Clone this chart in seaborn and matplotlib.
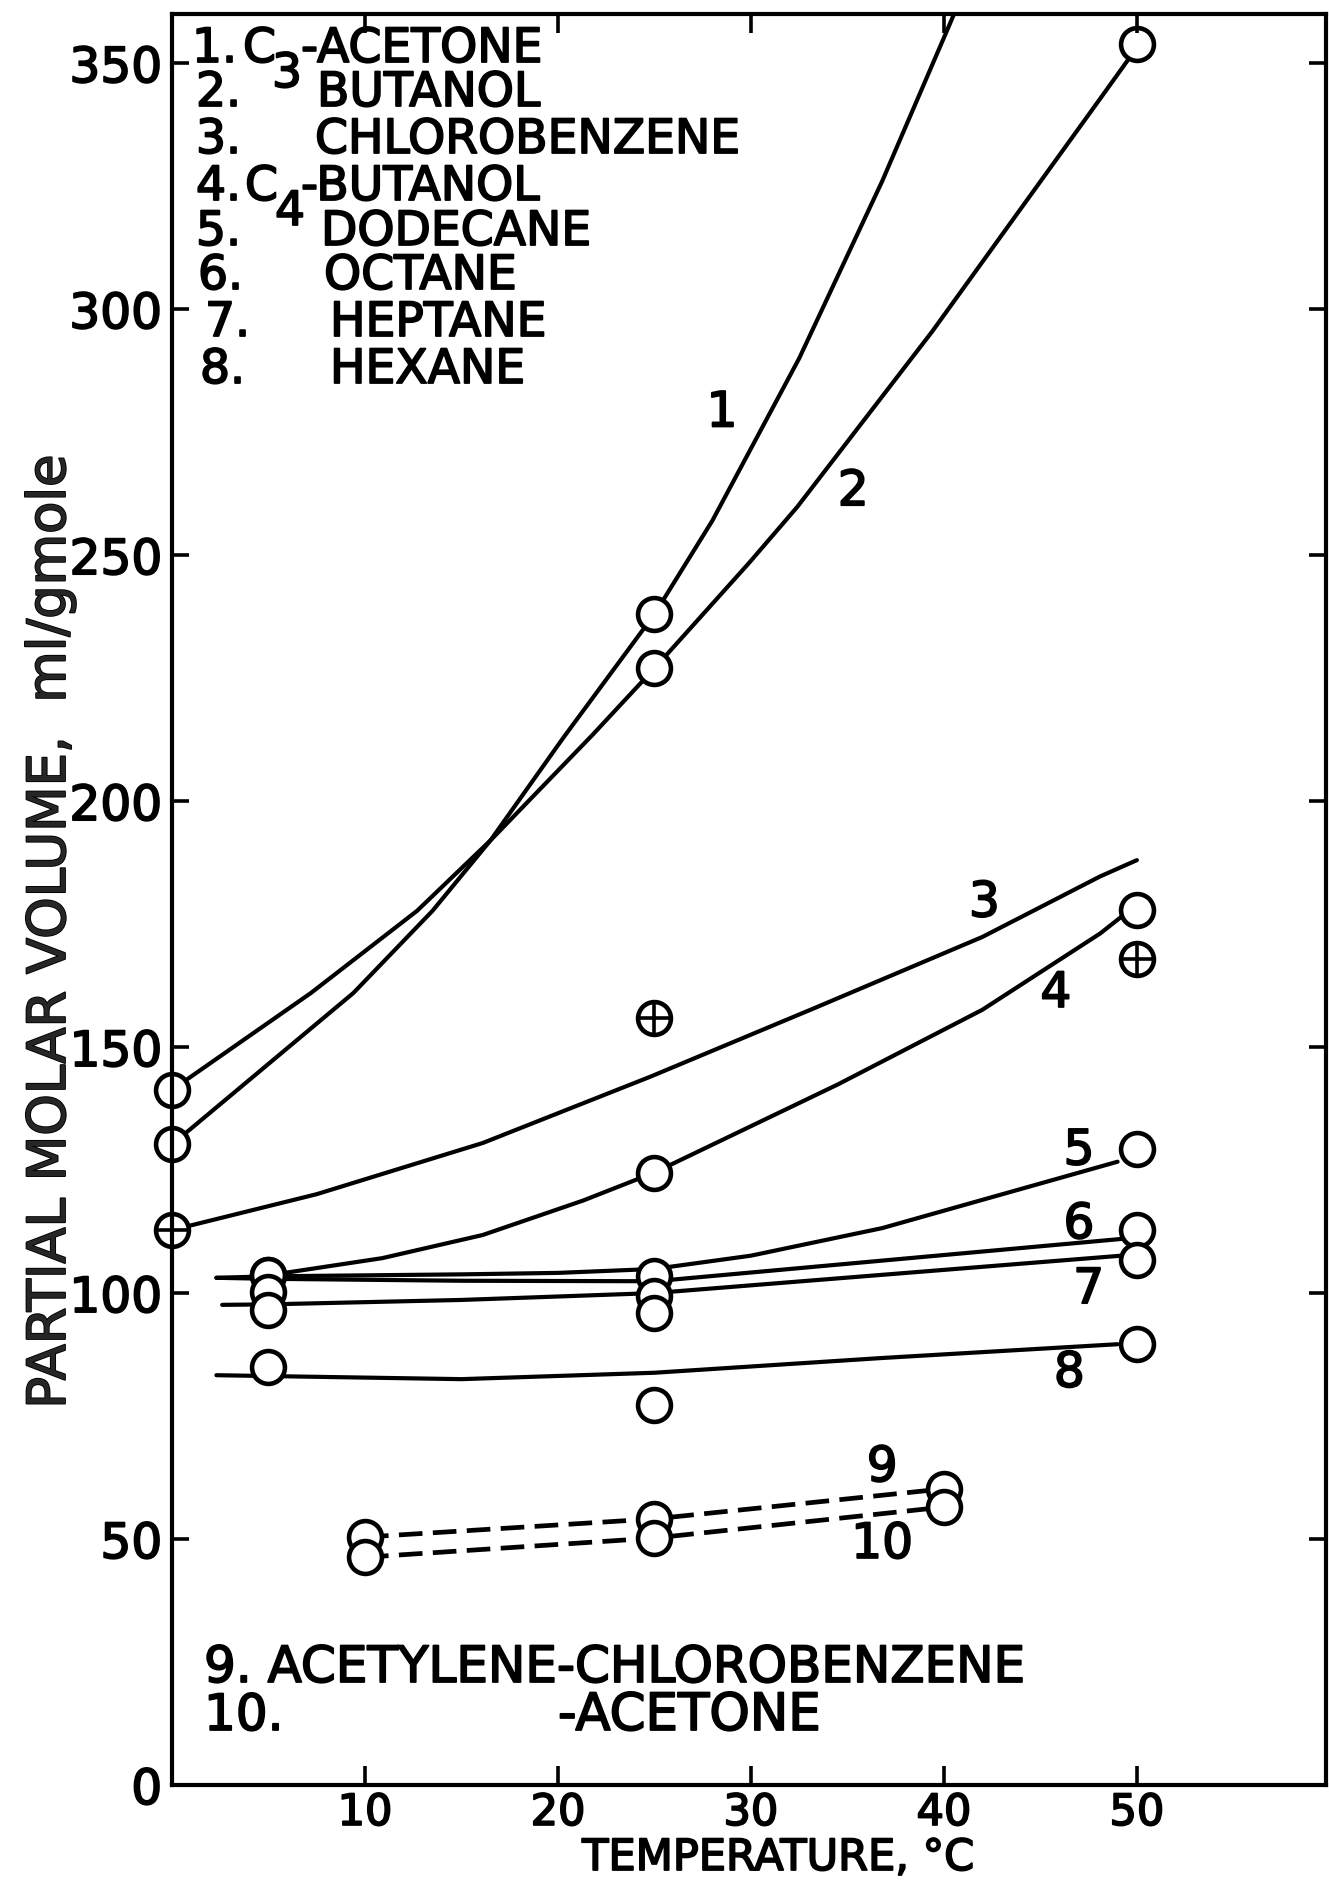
import matplotlib
matplotlib.use("Agg")
import matplotlib.pyplot as plt
import matplotlib.patheffects as pe
import seaborn as sns

# ---------------- data ----------------
# measured points (open circles / crossed circles)
c3_acetone_t = [0, 25]
c3_acetone_v = [130.2, 238.0]
c3_butanol_t = [0, 25, 50]
c3_butanol_v = [141.3, 227.0, 354.0]
chlorobenzene_t = [0, 25, 50]
chlorobenzene_v = [112.8, 156.0, 168.0]
c4_butanol_t = [5, 25, 50]
c4_butanol_v = [103.6, 124.5, 177.8]
dodecane_t = [5, 25, 50]
dodecane_v = [103.6, 103.5, 129.3]
octane_t = [5, 25, 50]
octane_v = [100.3, 99.5, 112.8]
heptane_t = [5, 25, 50]
heptane_v = [96.5, 96.0, 106.7]
hexane_t = [5, 25, 50]
hexane_v = [85.0, 77.3, 89.6]
acet_cb_t = [10, 25, 40]
acet_cb_v = [50.4, 54.1, 60.2]
acet_ac_t = [10, 25, 40]
acet_ac_v = [46.3, 50.2, 56.5]

# drawn (fitted) curves
curve1_t = [0, 9.4, 13.5, 16.5, 20.3, 25, 28, 32.5, 36.8, 40.2, 41.5]
curve1_v = [130.2, 161, 177.7, 192, 213, 238, 257, 290, 326, 357, 369]
curve2_t = [0, 7.2, 12.7, 16.5, 21.8, 25, 29.9, 32.4, 39.4, 48.1, 49.6]
curve2_v = [141.3, 161, 177.7, 192, 213.5, 227, 248.4, 259.8, 295.5, 342.8, 351]
curve3_t = [0, 7.5, 16.1, 24.8, 33.4, 42, 48.1, 50]
curve3_v = [112.8, 120.1, 130.5, 144.0, 158.1, 172.4, 184.7, 188]
curve4_t = [5, 10.9, 16.1, 21.3, 25, 34.5, 42, 48.1, 49.2]
curve4_v = [103.6, 107.1, 111.8, 118.8, 124.5, 142.4, 157.6, 173.1, 176.5]
curve5_t = [2.3, 5, 15, 20, 25, 30, 36.8, 49.0]
curve5_v = [103.1, 103.4, 103.8, 104.1, 104.9, 107.6, 113.2, 126.7]
curve6_t = [2.3, 5, 15, 25, 49.2]
curve6_v = [103.1, 102.9, 102.5, 102.4, 111.0]
curve7_t = [2.6, 5, 15, 25, 49.2]
curve7_v = [97.6, 97.7, 98.6, 100.0, 107.6]
curve8_t = [2.3, 15, 25, 36.8, 49.0]
curve8_v = [83.3, 82.5, 83.8, 86.8, 89.6]

legend_top = [("1.", "C", "3", "-ACETONE"), ("2.", "", "", "BUTANOL"),
              ("3.", "", "", "CHLOROBENZENE"), ("4.", "C", "4", "-BUTANOL"),
              ("5.", "", "", "DODECANE"), ("6.", "", "", "OCTANE"),
              ("7.", "", "", "HEPTANE"), ("8.", "", "", "HEXANE")]
x_ticks = [10, 20, 30, 40, 50]
y_ticks = [0, 50, 100, 150, 200, 250, 300, 350]

# ---------------- figure ----------------
sns.set_theme(style="white", rc={"axes.edgecolor": "black",
                                 "xtick.color": "black", "ytick.color": "black"})
plt.rcParams["font.family"] = ["DejaVu Sans"]

W, H = 1329, 1883
fig = plt.figure(figsize=(W / 100, H / 100), dpi=100)
fig.patch.set_facecolor("white")
ax = fig.add_axes([172 / W, 1 - 1786 / H, (1326 - 172) / W, (1786 - 15) / H])
ax.set_facecolor("white")
ax.set_axisbelow(False)

thick = [pe.withStroke(linewidth=1.3, foreground="black")]
LW = 3.0

solid = [(curve1_t, curve1_v), (curve2_t, curve2_v), (curve3_t, curve3_v),
         (curve4_t, curve4_v), (curve5_t, curve5_v), (curve6_t, curve6_v),
         (curve7_t, curve7_v), (curve8_t, curve8_v)]
for t, v in solid:
    sns.lineplot(x=t, y=v, ax=ax, color="black", lw=LW, sort=False,
                 estimator=None, zorder=2)
    ax.lines[-1].set_solid_joinstyle("round")

for t, v in [(acet_cb_t, acet_cb_v), (acet_ac_t, acet_ac_v)]:
    sns.lineplot(x=t, y=v, ax=ax, color="black", lw=3.4, sort=False,
                 estimator=None, zorder=2)
    ax.lines[-1].set_dashes([5.0, 2.2])

circles = [(c3_acetone_t, c3_acetone_v), (c3_butanol_t, c3_butanol_v),
           (c4_butanol_t, c4_butanol_v), (dodecane_t, dodecane_v),
           (octane_t, octane_v), (heptane_t, heptane_v), (hexane_t, hexane_v),
           (acet_cb_t, acet_cb_v), (acet_ac_t, acet_ac_v)]
for t, v in circles:
    sns.scatterplot(x=t, y=v, ax=ax, marker="o", s=560, facecolor="white",
                    edgecolor="black", linewidth=3.3, zorder=2.2, clip_on=False)

sns.scatterplot(x=chlorobenzene_t, y=chlorobenzene_v, ax=ax, marker="o", s=560,
                facecolor="white", edgecolor="black", linewidth=3.3,
                zorder=2.2, clip_on=False)
sns.scatterplot(x=chlorobenzene_t, y=chlorobenzene_v, ax=ax, marker="+", s=560,
                color="black", linewidth=2.6, zorder=2.3, clip_on=False)

ax.set_xlim(0, 59.8)
ax.set_ylim(0, 360)
ax.set_xticks(x_ticks)
ax.set_yticks(y_ticks)
ax.set_xticklabels([str(t) for t in x_ticks])
ax.set_yticklabels([str(t) for t in y_ticks])
for s in ax.spines.values():
    s.set_linewidth(3.0)
    s.set_color("black")
    s.set_visible(True)
ax.tick_params(axis="x", which="both", direction="in", top=True, bottom=True,
               length=14, width=2.6, labelsize=31, pad=5)
ax.tick_params(axis="y", which="both", direction="in", left=True, right=True,
               length=12, width=2.6, labelsize=35, pad=7)
for lab in ax.get_xticklabels() + ax.get_yticklabels():
    lab.set_path_effects(thick)

ax.set_xlabel("")
ax.set_ylabel("PARTIAL MOLAR VOLUME,  ml/gmole", fontsize=38)
ax.yaxis.set_label_coords((50 - 172) / 1154, (1786 - 933) / 1771)
ax.yaxis.label.set_va("center")
ax.yaxis.label.set_path_effects(thick)

xl = fig.text(778 / W, 1 - 1871 / H, "TEMPERATURE, °C", fontsize=31,
              ha="center", va="baseline", color="black")
xl.set_path_effects(thick)


def ftext(x, y, s, size=34, **kw):
    t = fig.text(x / W, 1 - y / H, s, fontsize=size, va="baseline", ha="left",
                 color="black", **kw)
    t.set_path_effects(thick)
    return t


# legend block (top left)
row_base = [63, 107, 154, 201, 246, 290, 337, 384]
num_x = [192, 196, 196, 196, 196, 198, 205, 200]
name_x = [299, 317, 315, 299, 321, 324, 330, 330]
for i, (num, c, sub, name) in enumerate(legend_top):
    ftext(num_x[i], row_base[i], num)
    if c:
        ftext(243 if i == 0 else 245, row_base[i], c)
        ftext(272 if i == 0 else 275, row_base[i] + 25, sub)
    ftext(name_x[i] + (2 if c else 0), row_base[i], name)

# legend block (bottom)
ftext(204, 1683, "9. ACETYLENE-CHLOROBENZENE", size=36)
ftext(204, 1731, "10.", size=36)
ftext(558, 1731, "-ACETONE", size=37)

# curve numbers
curve_labels = [("1", 28.5, 279), ("2", 35.3, 263), ("3", 42.1, 179.4),
                ("4", 45.8, 161), ("5", 47.0, 129), ("6", 47.0, 114),
                ("7", 47.5, 100.8), ("8", 46.5, 83.8), ("9", 36.8, 64.6),
                ("10", 36.8, 49)]
for s, x, y in curve_labels:
    t = ax.text(x, y, s, fontsize=35, ha="center", va="center", color="black")
    t.set_path_effects(thick)

fig.savefig("out.png", dpi=100, facecolor="white")
